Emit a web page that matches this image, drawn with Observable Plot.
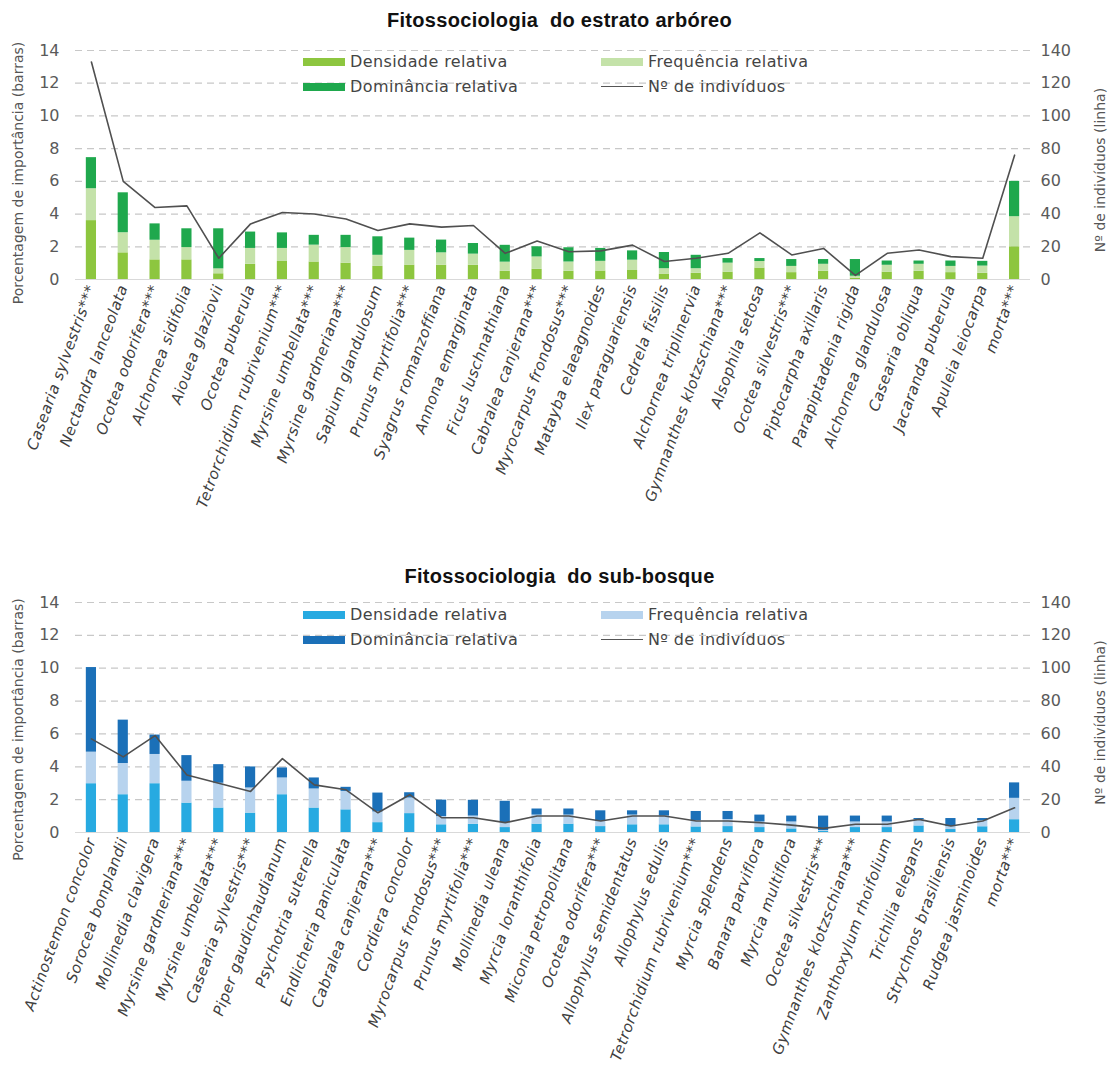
<!DOCTYPE html>
<html>
<head>
<meta charset="utf-8">
<script src="https://cdn.jsdelivr.net/npm/d3@7"></script>
<script src="https://cdn.jsdelivr.net/npm/@observablehq/plot@0.6"></script>
<style>
  body { margin: 0; background: #fff; font-family: "Liberation Sans", Arial, sans-serif; }
  #wrap { position: relative; width: 1119px; height: 1082px; overflow: hidden; }
  .title { position: absolute; left: 0; width: 1119px; text-align: center; font-weight: bold; font-size: 20px; letter-spacing: 0.3px; color: #111; white-space: pre; }
  .plot { position: absolute; left: 0; }
  .leg { position: absolute; font-family: "DejaVu Sans", sans-serif; font-size: 16px; letter-spacing: 0.4px; color: #444; display: flex; align-items: center; white-space: nowrap; }
  .sw { display: inline-block; width: 42px; height: 8px; margin-right: 5px; }
  .ln { display: inline-block; width: 42px; height: 0; border-top: 1.5px solid #555; margin-right: 5px; }
  .xl text { font-style: italic; letter-spacing: 0.5px; }
</style>
</head>
<body>
<div id="wrap"></div>
<script>
// ---------- Data: estrato arbóreo ----------
const speciesA = ["Casearia sylvestris***","Nectandra lanceolata","Ocotea odorifera***","Alchornea sidifolia","Aiouea glaziovii","Ocotea puberula","Tetrorchidium rubrivenium***","Myrsine umbellata***","Myrsine gardneriana***","Sapium glandulosum","Prunus myrtifolia***","Syagrus romanzoffiana","Annona emarginata","Ficus luschnathiana","Cabralea canjerana***","Myrocarpus frondosus***","Matayba elaeagnoides","Ilex paraguariensis","Cedrela fissilis","Alchornea triplinervia","Gymnanthes klotzschiana***","Alsophila setosa","Ocotea silvestris***","Piptocarpha axillaris","Parapiptadenia rigida","Alchornea glandulosa","Casearia obliqua","Jacaranda puberula","Apuleia leiocarpa","morta***"];
const densA = [3.6,1.63,1.2,1.2,0.35,0.93,1.1,1.07,1.0,0.8,0.88,0.87,0.87,0.5,0.62,0.5,0.52,0.55,0.31,0.38,0.45,0.7,0.42,0.5,0.08,0.45,0.5,0.42,0.38,2.0];
const freqA = [1.95,1.23,1.2,0.75,0.3,0.97,0.8,1.03,0.95,0.68,0.9,0.76,0.68,0.56,0.76,0.57,0.59,0.63,0.35,0.28,0.55,0.4,0.38,0.43,0.12,0.42,0.43,0.38,0.44,1.84];
const domA  = [1.9,2.44,1.0,1.15,2.45,1.0,0.95,0.6,0.75,1.13,0.75,0.78,0.65,1.03,0.62,0.87,0.79,0.57,0.99,0.82,0.28,0.18,0.42,0.29,1.02,0.26,0.2,0.33,0.29,2.16];
const indA  = [133,60,44,45,13,34,41,40,37,30,34,32,33,16,23.5,17,17.5,21,11,13,16,28.5,15,19,2.5,16,18,14,13,76];

// ---------- Data: sub-bosque ----------
const speciesB = ["Actinostemon concolor","Sorocea bonplandii","Mollinedia clavigera","Myrsine gardneriana***","Myrsine umbellata***","Casearia sylvestris***","Piper gaudichaudianum","Psychotria suterella","Endlicheria paniculata","Cabralea canjerana***","Cordiera concolor","Myrocarpus frondosus***","Prunus myrtifolia***","Mollinedia uleana","Myrcia loranthifolia","Miconia petropolitana","Ocotea odorifera***","Allophylus semidentatus","Allophylus edulis","Tetrorchidium rubrivenium***","Myrcia splendens","Banara parviflora","Myrcia multiflora","Ocotea silvestris***","Gymnanthes klotzschiana***","Zanthoxylum rhoifolium","Trichilia elegans","Strychnos brasiliensis","Rudgea jasminoides","morta***"];
const densB = [2.97,2.3,2.97,1.79,1.49,1.18,2.3,1.49,1.38,0.6,1.15,0.47,0.5,0.3,0.51,0.51,0.36,0.47,0.47,0.34,0.36,0.3,0.22,0.06,0.3,0.3,0.4,0.18,0.35,0.78];
const freqB = [1.92,1.9,1.78,1.33,1.51,1.53,1.02,1.16,1.12,0.65,0.95,0.5,0.5,0.3,0.55,0.55,0.32,0.59,0.53,0.38,0.43,0.34,0.42,0.06,0.34,0.34,0.38,0.18,0.36,1.3];
const domB  = [5.15,2.64,1.18,1.56,1.13,1.28,0.61,0.67,0.25,1.15,0.32,1.0,0.96,1.3,0.37,0.37,0.64,0.26,0.32,0.56,0.49,0.42,0.36,0.88,0.36,0.36,0.07,0.49,0.14,0.94];
const indB  = [57,46,59,35,30,25,45,29,26,12,23,9,9,6,10,10,7,10,10,7,7,6,4.5,2.5,5,5,8,4,7,15];

const seriesNames = ["Densidade relativa","Frequência relativa","Dominância relativa"];
const lineName = "Nº de indivíduos";
const leftTicks = [0,2,4,6,8,10,12,14];
const colorsA = ["#8dc63f","#c4e2a9","#1fa84d"];
const colorsB = ["#27aae1","#b7d3ee","#1b70b8"];

const wrap = document.getElementById("wrap");

function makeChart(species, dens, freq, dom, ind, colors, opts) {
  const rows = [];
  species.forEach((sp, i) => {
    rows.push({sp, serie: seriesNames[0], v: dens[i]});
    rows.push({sp, serie: seriesNames[1], v: freq[i]});
    rows.push({sp, serie: seriesNames[2], v: dom[i]});
  });
  const lineRows = species.map((sp, i) => ({sp, n: ind[i]}));
  const plot = Plot.plot({
    width: 1119,
    height: opts.height,
    marginLeft: 75,
    marginRight: 89,
    marginTop: 15,
    marginBottom: opts.marginBottom,
    style: {fontFamily: "DejaVu Sans, sans-serif", background: "transparent", overflow: "visible"},
    x: {domain: species, paddingInner: 0.68, paddingOuter: 0.34, round: false, label: null},
    y: {domain: [0, 14], label: null},
    color: {domain: seriesNames, range: colors},
    marks: [
      Plot.gridY(leftTicks.filter(d => d > 0), {stroke: "#c8c8c8", strokeOpacity: 1, strokeDasharray: "7,5", strokeWidth: 1.2}),
      Plot.ruleY([0], {stroke: "#d9d9d9", strokeWidth: 1.2}),
      Plot.barY(rows, {x: "sp", y: "v", fill: "serie"}),
      Plot.line(lineRows, {x: "sp", y: d => d.n / 10, stroke: "#505050", strokeWidth: 1.6}),
      Plot.axisY({ticks: leftTicks, tickSize: 0, tickPadding: 16, fontSize: 16, fill: "#5a5a5a", label: null}),
      Plot.axisY({anchor: "right", ticks: leftTicks, tickFormat: d => String(d * 10), tickSize: 0, tickPadding: 10, fontSize: 16, fill: "#5a5a5a", label: null}),
      Plot.axisX({tickRotate: -70, tickSize: 0, tickPadding: 6, fontSize: 15, fill: "#404040", label: null, className: "xl"}),
      Plot.text(["Porcentagem de importância (barras)"], {frameAnchor: "left", textAnchor: "middle", dx: -57, dy: opts.ltDy, rotate: -90, text: d => d, fontSize: 14, fill: "#555"}),
      Plot.text(["Nº de indivíduos (linha)"], {frameAnchor: "right", textAnchor: "middle", dx: 70, dy: opts.rtDy, rotate: -90, text: d => d, fontSize: 14, fill: "#555"})
    ]
  });
  plot.classList.add("plot");
  plot.style.top = opts.top + "px";
  wrap.appendChild(plot);

  const t = document.createElement("div");
  t.className = "title";
  t.style.top = opts.titleTop + "px";
  t.textContent = opts.title;
  wrap.appendChild(t);

  const legItems = [
    {x: 303, y: opts.legTop, kind: "sw", c: colors[0], label: seriesNames[0]},
    {x: 601, y: opts.legTop, kind: "sw", c: colors[1], label: seriesNames[1]},
    {x: 303, y: opts.legTop + 25, kind: "sw", c: colors[2], label: seriesNames[2]},
    {x: 601, y: opts.legTop + 25, kind: "ln", c: "#555", label: lineName}
  ];
  legItems.forEach(it => {
    const d = document.createElement("div");
    d.className = "leg";
    d.style.left = it.x + "px";
    d.style.top = it.y + "px";
    const s = document.createElement("span");
    s.className = it.kind;
    if (it.kind === "sw") s.style.background = it.c;
    d.appendChild(s);
    d.appendChild(document.createTextNode(it.label));
    wrap.appendChild(d);
  });
}

makeChart(speciesA, densA, freqA, domA, indA, colorsA,
  {top: 35, height: 450, marginBottom: 206, title: "Fitossociologia  do estrato arbóreo", titleTop: 9, legTop: 52, ltDy: 8, rtDy: 5});
makeChart(speciesB, densB, freqB, domB, indB, colorsB,
  {top: 587, height: 495, marginBottom: 250, title: "Fitossociologia  do sub-bosque", titleTop: 565, legTop: 605, ltDy: 12, rtDy: 5});
</script>
</body>
</html>
